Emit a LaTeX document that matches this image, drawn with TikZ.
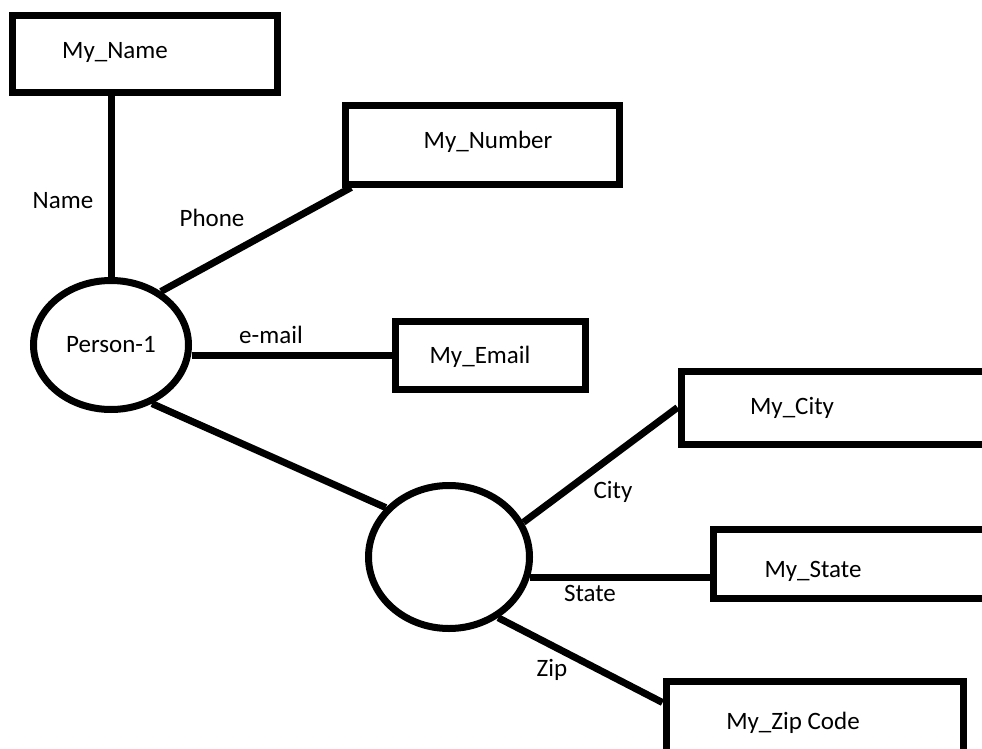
\documentclass[tikz,border=0pt]{standalone}
\usepackage{fontspec}
\setmainfont{Carlito}
\usetikzlibrary{shapes.geometric}

\begin{document}
\begin{tikzpicture}[x=1pt, y=-1pt, line width=7pt,
  every node/.style={font=\fontsize{25}{30}\selectfont},
  valbox/.style={draw, rectangle, inner sep=0pt},
  entity/.style={draw, ellipse, inner sep=0pt}]
  \useasboundingbox (0,0) rectangle (982,749);
  \clip (0,0) rectangle (982,749);

  % 実体（楕円）
  \node[entity, minimum width=155pt, minimum height=129pt] (person) at (111,345) {Person-1};
  \node[entity, minimum width=161pt, minimum height=143pt] (addr) at (449,557) {};

  % 値の箱
  \node[valbox, minimum width=265pt, minimum height=77pt] (nameBox) at (144.5,54.5) {};
  \node[valbox, minimum width=274pt, minimum height=78pt] (numBox) at (482,145) {};
  \node[valbox, minimum width=190pt, minimum height=68pt] (mailBox) at (490,355) {};
  \node[valbox, minimum width=319pt, minimum height=73pt] (cityBox) at (840.5,407.5) {};
  \node[valbox, minimum width=287pt, minimum height=69pt] (stateBox) at (856.5,563.5) {};
  \node[valbox, minimum width=297pt, minimum height=75pt] (zipBox) at (814.5,718.5) {};

  % 箱の中の文字
  \node (nameTxt) at (115,52) {My\_Name};
  \node (numTxt) at (488,142) {My\_Number};
  \node (mailTxt) at (480,357) {My\_Email};
  \node (cityTxt) at (792,408) {My\_City};
  \node (stateTxt) at (813,571) {My\_State};
  \node (zipTxt) at (793,723) {My\_Zip Code};

  % 線
  \draw (person.north) -- (person.north |- nameBox.south);
  \draw (person.47) -- (numBox.198);
  \draw (person.east |- mailBox.west) -- (mailBox.west);
  \draw (person.-55) -- (addr.142);
  \draw (addr.25) -- (cityBox.west);
  \draw (addr.-14) -- (addr.-14 -| stateBox.west);
  \draw (addr.-51) -- (zipBox.174);

  % ラベル
  \node (nameLbl) at (63,201) {Name};
  \node (phoneLbl) at (212,218) {Phone};
  \node (mailLbl) at (271,335) {e-mail};
  \node (cityLbl) at (613,492) {City};
  \node (stateLbl) at (590,593) {State};
  \node (zipLbl) at (552,670) {Zip};
\end{tikzpicture}
\end{document}
